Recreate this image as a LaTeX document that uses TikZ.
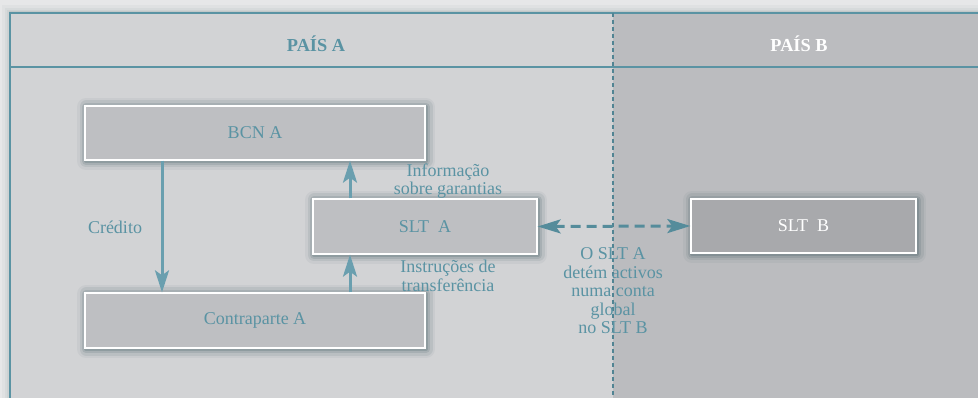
\documentclass[tikz,border=0pt]{standalone}
\usepackage{fontspec}
\setmainfont{Liberation Serif}
\usetikzlibrary{arrows.meta}
\definecolor{tealc}{HTML}{5A93A3}
\definecolor{arrowc}{HTML}{6A9FAF}
\definecolor{leftfill}{HTML}{D2D3D5}
\definecolor{rightfill}{HTML}{BBBCBF}
\definecolor{boxfill}{HTML}{BEBFC2}
\definecolor{boxdark}{HTML}{A8A9AC}
\definecolor{outerbg}{HTML}{E6E7E8}
\definecolor{shadowc}{HTML}{3E5A60}
\tikzset{
  x=1pt, y=-1pt,
  softshadow/.style={
    preaction={draw=shadowc, line join=round, line width=18pt, opacity=0.06, transform canvas={shift={(1pt,-1pt)}}},
    preaction={draw=shadowc, line join=round, line width=13pt, opacity=0.10, transform canvas={shift={(1pt,-1pt)}}},
    preaction={draw=shadowc, line join=round, line width=8pt, opacity=0.15, transform canvas={shift={(1pt,-1pt)}}},
    preaction={draw=shadowc, line join=round, line width=4pt, opacity=0.22, transform canvas={shift={(1pt,-1pt)}}}},
  box/.style={softshadow, draw=white, line width=1.3pt, fill=boxfill, inner sep=0pt,
    font=\fontsize{18}{19}\selectfont, text=tealc},
  lbl/.style={font=\fontsize{18}{18.5}\selectfont, text=tealc, align=center, inner sep=0pt},
  head/.style={font=\fontsize{18.3}{19}\selectfont\bfseries, inner sep=0pt},
  arr/.style={draw=arrowc, line width=3pt, -{Stealth[length=22pt,width=14pt,inset=5pt]}},
}
\begin{document}
\begin{tikzpicture}
\useasboundingbox (0,0) rectangle (978,398);
% outer background with soft shadow of frame
\fill[outerbg] (0,0) rectangle (978,398);
\foreach \i/\o in {8/0.04,5/0.05,3/0.06,1.5/0.08}{
  \fill[shadowc, opacity=\o] (10-\i,13-\i) rectangle (990,405);
}
% regions
\fill[leftfill] (10,13) rectangle (613,405);
\fill[rightfill] (613,13) rectangle (990,405);
\draw[tealc, line width=1.3pt] (990,13) -- (10,13) -- (10,405);
\draw[tealc, line width=1.3pt] (10,67) -- (990,67);
\draw[tealc!90!black, line width=1.4pt, dash pattern=on 4pt off 3pt] (613,13) -- (613,398);
% headers
\node[head, text=tealc] (pa) at (316,44) {PAÍS A};
\node[head, text=white] (pb) at (799,44) {PAÍS B};
% boxes
\node[box, minimum width=340pt, minimum height=54pt] (bcn) at (255,133) {BCN A};
\node[box, minimum width=224pt, minimum height=55pt] (slta) at (425,226.5) {SLT~~A};
\node[box, minimum width=340pt, minimum height=55pt] (cpa) at (255,320.5) {Contraparte A};
\node[box, fill=boxdark, text=white, minimum width=225pt, minimum height=54pt] (sltb) at (803.5,226) {SLT~~B};
% arrows
\draw[arr] (bcn.south -| 162,0) -- (cpa.north -| 162,0);
\draw[arr] (slta.north -| 350,0) -- (bcn.south -| 350,0);
\draw[arr] (cpa.north -| 350,0) -- (slta.south -| 350,0);
\draw[draw=tealc!95!black, line width=3pt, dash pattern=on 10pt off 6pt,
  {Stealth[length=23pt,width=14pt,inset=5pt]}-{Stealth[length=23pt,width=14pt,inset=5pt]}]
  (slta.east) -- (sltb.west);
% labels
\node[lbl] (cred) at (115,227) {Crédito};
\node[lbl] (info) at (448,181) {Informação\\sobre garantias};
\node[lbl] (instr) at (448,276) {Instruções de\\transferência};
\node[lbl] (det) at (613,291) {O SLT A\\detém activos\\numa conta\\global\\no SLT B};
\end{tikzpicture}
\end{document}
